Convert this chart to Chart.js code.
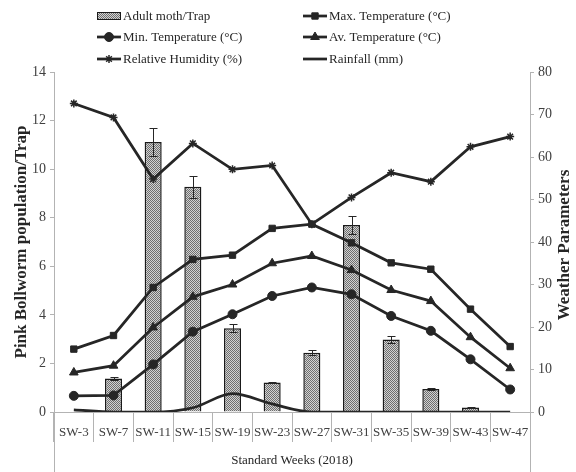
<!DOCTYPE html>
<html>
<head>
<meta charset="utf-8">
<script src="https://cdn.jsdelivr.net/npm/chart.js@4.4.1/dist/chart.umd.min.js"></script>
<style>
  html, body { margin: 0; padding: 0; background: #fff; }
  #wrap { width: 576px; height: 472px; position: relative; }
</style>
</head>
<body>
<div id="wrap"><canvas id="chart" width="576" height="472"></canvas></div>
<script>
const weeks = ['SW-3', 'SW-7', 'SW-11', 'SW-15', 'SW-19', 'SW-23', 'SW-27', 'SW-31', 'SW-35', 'SW-39', 'SW-43', 'SW-47'];
const mothPerTrap = [0, 1.38, 11.12, 9.27, 3.45, 1.21, 2.44, 7.7, 2.99, 0.95, 0.19, 0];
const mothError = [0, 0.06, 0.57, 0.45, 0.17, 0.03, 0.1, 0.37, 0.13, 0.03, 0.02, 0];
const maxTemp = [14.8, 18.0, 29.3, 35.9, 36.9, 43.2, 44.2, 39.8, 35.1, 33.6, 24.2, 15.4];
const minTemp = [3.8, 3.9, 11.2, 18.9, 23.0, 27.3, 29.3, 27.7, 22.6, 19.1, 12.4, 5.3];
const avTemp = [9.3, 10.9, 19.9, 27.1, 30.0, 35.0, 36.7, 33.4, 28.7, 26.1, 17.6, 10.3];
const humidity = [72.6, 69.3, 54.8, 63.2, 57.1, 58.0, 44.2, 50.5, 56.3, 54.2, 62.4, 64.8];
const rainfall = [0.5, 0, 0, 1.0, 4.3, 1.9, 0, 0, 0, 0, 0, 0];
const leftTicks = { min: 0, max: 14, step: 2 };
const rightTicks = { min: 0, max: 80, step: 10 };

const ink = '#262626';
const axisGray = '#b3b3b3';
const textGray = '#404040';
const serif = "'Liberation Serif', 'Times New Roman', serif";

Chart.defaults.font.family = serif;
Chart.defaults.color = textGray;

const canvas = document.querySelector('#chart');
const ctx = canvas.getContext('2d');

function barPattern() {
  const c = document.createElement('canvas');
  c.width = 2;
  c.height = 2;
  const g = c.getContext('2d');
  g.fillStyle = '#d2d2d2';
  g.fillRect(0, 0, 2, 2);
  g.fillStyle = '#6e6e6e';
  g.fillRect(0, 0, 1, 1);
  g.fillRect(1, 1, 1, 1);
  return ctx.createPattern(c, 'repeat');
}
const pattern = barPattern();

function lineSet(label, data, pointStyle, radius) {
  return {
    type: 'line',
    label,
    data,
    yAxisID: 'y2',
    borderColor: ink,
    backgroundColor: ink,
    borderWidth: 2.75,
    pointStyle,
    pointRadius: radius,
    pointBorderWidth: pointStyle === 'star' ? 1.5 : 1,
    tension: 0,
    order: 1,
  };
}

const datasets = [
  {
    type: 'bar',
    label: 'Adult moth/Trap',
    data: mothPerTrap,
    yAxisID: 'y',
    backgroundColor: pattern,
    borderColor: '#1a1a1a',
    borderWidth: 1.5,
    categoryPercentage: 1,
    barPercentage: 0.43,
    order: 10,
  },
  lineSet('Max. Temperature (°C)', maxTemp, 'rect', 4.5),
  lineSet('Min. Temperature (°C)', minTemp, 'circle', 4.5),
  lineSet('Av. Temperature (°C)', avTemp, 'triangle', 5),
  lineSet('Relative Humidity (%)', humidity, 'star', 4),
  Object.assign(lineSet('Rainfall (mm)', rainfall, false, 0), { cubicInterpolationMode: 'monotone' }),
];

// legend laid out as two columns, three rows
const legendCells = [
  { ds: 0, x: 97, y: 16 }, { ds: 1, x: 303, y: 16 },
  { ds: 2, x: 97, y: 37 }, { ds: 3, x: 303, y: 37 },
  { ds: 4, x: 97, y: 59 }, { ds: 5, x: 303, y: 59 },
];

const decor = {
  id: 'decor',
  afterDatasetDraw(chart, args) {
    if (args.index !== 0) return;
    const c = chart.ctx;
    const y = chart.scales.y;
    const meta = chart.getDatasetMeta(0);
    c.save();
    c.strokeStyle = ink;
    c.lineWidth = 1;
    meta.data.forEach((bar, i) => {
      const err = mothError[i];
      if (!err) return;
      const top = Math.round(y.getPixelForValue(mothPerTrap[i] + err)) + 0.5;
      const bot = Math.round(y.getPixelForValue(mothPerTrap[i] - err)) + 0.5;
      const x = Math.round(bar.x) + 0.5;
      c.beginPath();
      c.moveTo(x, top); c.lineTo(x, bot);
      c.moveTo(x - 4, top); c.lineTo(x + 4, top);
      c.moveTo(x - 4, bot); c.lineTo(x + 4, bot);
      c.stroke();
    });
    c.restore();
  },
  afterDraw(chart) {
    const c = chart.ctx;
    const area = chart.chartArea;
    c.save();
    // axis lines run down through the category label band
    c.strokeStyle = axisGray;
    c.lineWidth = 1;
    c.beginPath();
    c.moveTo(Math.round(area.left) + 0.5, area.bottom);
    c.lineTo(Math.round(area.left) + 0.5, chart.height);
    c.moveTo(Math.round(area.right) + 0.5, area.bottom);
    c.lineTo(Math.round(area.right) + 0.5, chart.height);
    c.stroke();

    // right axis title, reading bottom to top
    c.fillStyle = ink;
    c.font = `bold 17px ${serif}`;
    c.textAlign = 'center';
    c.textBaseline = 'middle';
    c.translate(565, 245);
    c.rotate(-Math.PI / 2);
    c.fillText('Weather Parameters', 0, 0);
    c.restore();

    c.save();
    c.font = `13px ${serif}`;
    c.textBaseline = 'middle';
    c.textAlign = 'left';
    legendCells.forEach((cell) => {
      const ds = chart.data.datasets[cell.ds];
      if (ds.type === 'bar') {
        c.fillStyle = pattern;
        c.fillRect(cell.x, cell.y - 4, 24, 8);
        c.strokeStyle = '#1a1a1a';
        c.lineWidth = 1;
        c.strokeRect(cell.x + 0.5, cell.y - 3.5, 23, 7);
      } else {
        c.strokeStyle = ink;
        c.fillStyle = ink;
        c.lineWidth = 2.75;
        c.beginPath();
        c.moveTo(cell.x, cell.y);
        c.lineTo(cell.x + 24, cell.y);
        c.stroke();
        if (ds.pointStyle) {
          c.lineWidth = ds.pointBorderWidth;
          Chart.helpers.drawPoint(c, { pointStyle: ds.pointStyle, radius: ds.pointRadius, borderWidth: ds.pointBorderWidth, rotation: 0 }, cell.x + 12, cell.y);
        }
      }
      c.fillStyle = ink;
      c.fillText(ds.label, cell.x + 26, cell.y + 1);
    });
    c.restore();
  },
};

new Chart(canvas, {
  data: { labels: weeks, datasets },
  plugins: [decor],
  options: {
    responsive: false,
    animation: false,
    layout: { padding: { top: 72, right: 0, bottom: 0, left: 0 } },
    plugins: {
      legend: { display: false },
      tooltip: { enabled: false },
    },
    scales: {
      x: {
        offset: true,
        grid: { offset: true, drawOnChartArea: false, tickLength: 30, color: axisGray },
        border: { color: axisGray },
        ticks: { autoSkip: false, maxRotation: 0, minRotation: 0, padding: -17, color: textGray, font: { size: 13 } },
        title: { display: true, text: 'Standard Weeks (2018)', color: ink, font: { size: 13 }, padding: { top: 0, bottom: 4 } },
        afterFit: (scale) => { scale.height = 60; },
      },
      y: {
        position: 'left',
        min: leftTicks.min,
        max: leftTicks.max,
        ticks: { stepSize: leftTicks.step, color: textGray, font: { size: 14 }, padding: 4 },
        grid: { drawOnChartArea: false, tickLength: 4, color: axisGray },
        border: { color: axisGray },
        title: { display: true, text: 'Pink Bollworm population/Trap', color: ink, font: { size: 17, weight: 'bold' }, padding: { top: 11, bottom: 0 } },
        afterFit: (scale) => { scale.width = 54; },
      },
      y2: {
        position: 'right',
        min: rightTicks.min,
        max: rightTicks.max,
        ticks: { stepSize: rightTicks.step, color: textGray, font: { size: 14 }, padding: 4 },
        grid: { drawOnChartArea: false, tickLength: 4, color: axisGray },
        border: { color: axisGray },
        afterFit: (scale) => { scale.width = 46; },
      },
    },
  },
});
</script>
</body>
</html>
